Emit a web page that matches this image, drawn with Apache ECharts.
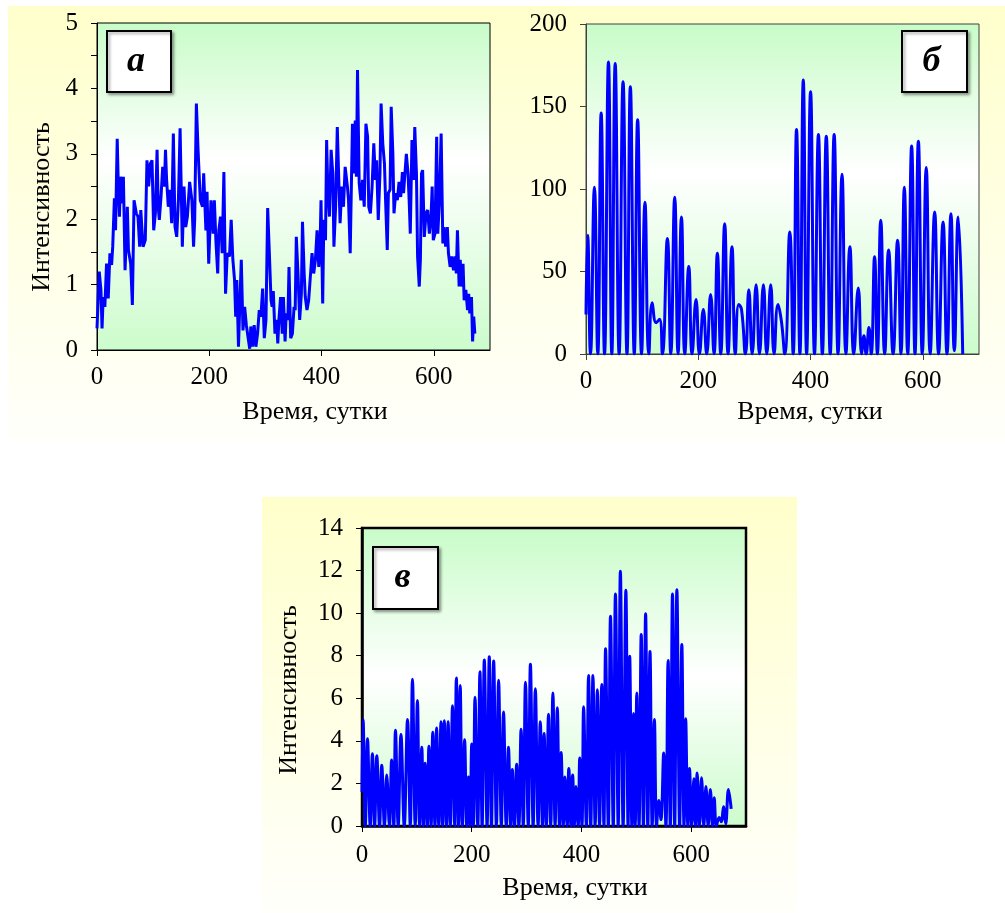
<!DOCTYPE html>
<html>
<head>
<meta charset="utf-8">
<script src="https://cdn.jsdelivr.net/npm/echarts@6/dist/echarts.min.js"></script>
<style>
  html, body { margin: 0; padding: 0; background: #fff; }
  #main { width: 1005px; height: 913px; }
</style>
</head>
<body>
<div id="main"></div>
<script>
// Panneau a : intensité brute
var daysA = [
  0, 4, 7, 9, 11, 14, 17, 20, 23, 26,
  28, 31, 33, 36, 38, 40, 42, 45, 47, 50,
  54, 56, 60, 63, 66, 70, 73, 76, 78, 82,
  86, 89, 92, 95, 98, 101, 104, 107, 109, 111,
  114, 117, 120, 122, 124, 127, 130, 133, 136, 139,
  142, 145, 148, 152, 155, 158, 161, 165, 169, 172,
  174, 177, 180, 184, 188, 190, 194, 196, 199, 203,
  207, 209, 212, 215, 217, 220, 223, 226, 229, 232,
  236, 239, 242, 245, 247, 249, 252, 255, 257, 260,
  263, 266, 269, 272, 274, 277, 280, 283, 286, 289,
  292, 295, 298, 301, 304, 307, 310, 312, 314, 317,
  320, 322, 324, 327, 330, 332, 335, 337, 340, 342,
  345, 348, 351, 353, 355, 358, 361, 364, 366, 369,
  371, 374, 377, 380, 383, 386, 389, 392, 395, 397,
  399, 402, 404, 407, 409, 411, 414, 417, 420, 422,
  425, 428, 431, 433, 436, 439, 442, 446, 448, 451,
  455, 458, 460, 462, 464, 467, 470, 473, 476, 479,
  482, 484, 487, 490, 493, 496, 498, 501, 504, 506,
  509, 512, 514, 517, 519, 522, 524, 527, 529, 532,
  535, 538, 541, 544, 546, 549, 551, 554, 556, 558,
  561, 564, 566, 569, 571, 574, 576, 578, 580, 583,
  586, 589, 592, 595, 597, 599, 602, 605, 607, 610,
  613, 616, 618, 621, 624, 626, 629, 632, 635, 638,
  640, 642, 645, 647, 649, 652, 654, 657, 660, 662,
  664, 667, 669, 671, 673
];
var valA = [
  0.33, 1.2, 0.92, 0.33, 0.81, 0.66, 1.32, 0.79, 1.48, 1.3,
  1.58, 2.32, 1.83, 3.23, 2.5, 2.04, 2.65, 2.24, 2.65, 1.22,
  2.19, 1.53, 1.32, 0.69, 2.29, 2.09, 2.04, 1.58, 2.14, 1.58,
  1.68, 2.9, 2.5, 2.85, 2.9, 1.83, 2.09, 3.06, 2.19, 1.99,
  2.34, 2.8, 2.5, 3.06, 2.6, 2.19, 2.45, 1.94, 3.31, 1.88,
  1.73, 2.29, 3.39, 1.58, 2.5, 1.88, 2.04, 2.57, 2.29, 1.58,
  1.99, 3.77, 3.06, 2.29, 2.19, 2.7, 1.83, 2.42, 1.32, 2.29,
  1.78, 2.29, 1.63, 1.17, 1.83, 2.04, 1.48, 2.72, 0.86, 1.48,
  1.43, 1.99, 1.38, 1.07, 0.51, 1.07, 0.05, 0.86, 1.38, 0.3,
  0.66, 0.38, 0.2, 0.02, 0.36, 0.05, 0.38, 0.05, 0.25, 0.61,
  0.51, 0.94, 0.18, 0.46, 2.17, 1.48, 0.76, 0.66, 0.9, 0.25,
  0.46, 0.1, 0.46, 0.81, 0.25, 0.81, 0.13, 0.56, 0.46, 1.27,
  0.18, 0.25, 0.66, 0.61, 1.73, 1.17, 0.46, 0.86, 1.96, 1.17,
  0.81, 0.61, 0.76, 1.12, 1.48, 1.17, 1.38, 1.83, 1.27, 1.48,
  2.29, 0.71, 1.99, 1.68, 3.21, 2.5, 2.04, 3.06, 2.7, 1.58,
  2.19, 3.41, 2.5, 1.94, 2.5, 2.19, 2.8, 2.5, 2.29, 1.48,
  3.46, 2.7, 3.51, 2.65, 4.28, 2.55, 2.29, 2.6, 2.19, 3.46,
  3.26, 2.19, 2.09, 2.5, 3.16, 2.6, 2.9, 1.99, 2.7, 3.77,
  3.16, 2.85, 2.29, 1.53, 2.4, 2.45, 3.72, 3.0, 2.09, 2.4,
  2.29, 2.57, 2.34, 2.72, 2.4, 2.4, 3.0, 2.7, 2.29, 1.78,
  3.21, 2.6, 3.41, 2.7, 1.43, 0.97, 1.38, 2.7, 2.75, 1.73,
  2.09, 2.14, 1.78, 2.04, 2.5, 1.68, 1.78, 3.26, 1.78, 2.29,
  3.31, 1.63, 1.88, 1.58, 1.88, 1.48, 1.27, 1.43, 1.22, 1.43,
  1.17, 1.83, 0.97, 1.38, 0.97, 1.32, 0.76, 0.92, 0.61, 0.86,
  0.56, 0.81, 0.13, 0.51, 0.25
];

// Panneau б : sommets et zéros des lobes
var daysB = [
  0, 3, 8, 15, 21, 27, 33, 40, 46, 52,
  59, 66, 73, 79, 86, 92, 99, 105, 112, 118,
  125, 131, 136, 145, 151, 158, 164, 170, 176, 183,
  189, 196, 202, 209, 215, 222, 228, 234, 240, 247,
  253, 260, 266, 272, 277, 284, 290, 296, 303, 309,
  316, 322, 329, 335, 342, 348, 354, 363, 369, 375,
  381, 387, 393, 400, 407, 414, 421, 428, 435, 442,
  449, 456, 463, 470, 477, 485, 491, 495, 499, 504,
  508, 514, 519, 525, 532, 539, 547, 555, 561, 567,
  573, 580, 586, 592, 599, 606, 613, 621, 628, 636,
  643, 650, 656, 663, 671
];
var valB = [
  24, 72, 0, 101, 0, 146, 0, 177, 0, 176,
  0, 165, 0, 162, 0, 142, 0, 92, 0, 31,
  19, 21, 0, 70, 0, 95, 0, 83, 0, 53,
  0, 33, 0, 27, 0, 36, 0, 61, 0, 79,
  0, 65, 0, 30, 27, 0, 39, 0, 42, 0,
  42, 0, 42, 0, 30, 20, 0, 74, 0, 136,
  0, 166, 0, 159, 0, 133, 0, 132, 0, 133,
  0, 109, 0, 65, 0, 40, 0, 11, 0, 16,
  0, 59, 0, 81, 0, 63, 0, 69, 0, 101,
  0, 126, 0, 129, 0, 113, 0, 86, 0, 80,
  0, 85, 2, 83, 0
];

// Panneau в
var daysC = [
  0, 2, 6, 10, 15, 19, 23, 27, 32, 36,
  41, 45, 50, 54, 58, 61, 66, 71, 77, 83,
  88, 92, 97, 101, 105, 109, 112, 115, 119, 122,
  126, 129, 133, 136, 140, 144, 147, 150, 154, 157,
  161, 165, 169, 172, 176, 179, 183, 187, 191, 194,
  197, 200, 203, 206, 211, 215, 219, 223, 228, 232,
  236, 240, 245, 249, 254, 258, 263, 267, 271, 274,
  278, 282, 286, 290, 294, 298, 303, 307, 312, 316,
  321, 325, 329, 332, 336, 340, 344, 348, 352, 356,
  360, 363, 367, 370, 374, 377, 381, 384, 387, 390,
  394, 397, 401, 404, 409, 413, 417, 421, 425, 429,
  433, 437, 441, 444, 449, 453, 458, 462, 467, 471,
  476, 481, 485, 488, 492, 495, 498, 501, 505, 509,
  513, 517, 521, 525, 529, 533, 537, 541, 545, 550,
  554, 558, 562, 566, 570, 574, 579, 583, 587, 590,
  594, 597, 601, 605, 608, 611, 615, 619, 623, 627,
  631, 635, 639, 642, 646, 651, 655, 659, 663, 668,
  673
];
var valC = [
  1.6, 5.0, 0, 4.1, 0, 3.4, 0, 3.3, 0, 2.85,
  0, 2.4, 0, 3.1, 0, 4.5, 0, 4.3, 0, 5.0,
  0, 6.9, 0, 5.9, 0, 3.7, 0, 2.95, 0, 3.75,
  0, 4.4, 0, 4.6, 0, 4.9, 0, 4.95, 0, 4.9,
  0, 5.65, 0, 6.95, 0, 6.6, 0, 4.05, 0, 2.3,
  0, 3.85, 0, 6.05, 0, 7.25, 0, 7.8, 0, 7.95,
  0, 7.75, 0, 6.85, 0, 5.35, 0, 3.7, 0, 2.65,
  0, 2.9, 0, 4.55, 0, 6.75, 0, 7.6, 0, 6.45,
  0, 4.9, 0, 4.35, 0, 5.25, 0, 6.25, 0, 5.55,
  0, 3.45, 0, 2.3, 0, 2.7, 0, 2.4, 0, 1.85,
  0, 3.2, 0, 5.6, 0, 7.07, 0, 7.07, 0, 6.4,
  0, 6.65, 0, 8.33, 0, 9.85, 0, 10.9, 0, 11.97,
  0, 11.07, 0, 7.97, 0, 5.28, 0, 6.25, 0, 9.0,
  0, 9.97, 0, 8.2, 0, 5.0, 0, 1.2, 0.3, 3.43,
  0, 7.78, 0, 10.9, 0, 11.1, 0, 8.53, 0, 5.04,
  0, 2.7, 0, 2.22, 0, 2.49, 0, 2.27, 0, 1.86,
  0, 1.71, 0, 1.33, 0, 0.4, 0.2, 0.9, 0.1, 1.71,
  0.8
];

var xTicks = [0, 200, 400, 600];
var font = 'Liberation Serif';

function zip(xs, ys) {
	var out = [];
	for (var i = 0; i < xs.length; i++) {
		out.push([xs[i], ys[i]]);
	}
	return out;
}

// Dégradé vert - blanc - vert du fond des graphiques
function plotBg(mid) {
	return new echarts.graphic.LinearGradient(0, 0, 0, 1, [
		{ offset: 0, color: '#C8FCC8' },
		{ offset: mid, color: '#FFFFFF' },
		{ offset: 1, color: '#CCFCCC' }
	]);
}

function xAxisFor(gridIndex, lineColor, lineWidth, margin) {
	return {
		type: 'value', gridIndex: gridIndex, min: 0, max: 700, interval: 200,
		axisLine: { show: true, onZero: false, lineStyle: { color: lineColor, width: lineWidth } },
		axisTick: { show: true, length: 6, customValues: xTicks, lineStyle: { color: lineColor, width: 1 } },
		axisLabel: {
			customValues: xTicks, margin: margin, color: '#000', fontFamily: font, fontSize: 25,
			formatter: function(v) { return v === 700 ? '' : v; }
		},
		splitLine: { show: false }
	};
}

function yAxisFor(gridIndex, max, interval, lineColor, lineWidth, minor) {
	return {
		type: 'value', gridIndex: gridIndex, min: 0, max: max, interval: interval,
		axisLine: { show: true, lineStyle: { color: lineColor, width: lineWidth } },
		axisTick: { show: true, length: 6, lineStyle: { color: lineColor, width: 1 } },
		minorTick: { show: minor, splitNumber: 2, length: 6, lineStyle: { color: lineColor, width: 1 } },
		axisLabel: { margin: 19, color: '#000', fontFamily: font, fontSize: 25 },
		splitLine: { show: false }
	};
}

function titleText(x, y, text, rotate) {
	return {
		type: 'text', x: x, y: y, rotation: rotate ? Math.PI / 2 : 0, z: 50,
		style: { text: text, fill: '#000', font: '26px "' + font + '"', align: 'center', verticalAlign: 'middle' }
	};
}

function letterBox(x, y, w, h, letter) {
	return {
		type: 'group', z: 100,
		children: [
			{
				type: 'rect', shape: { x: x, y: y, width: w, height: h },
				style: { fill: '#fff', stroke: '#000', lineWidth: 2, shadowBlur: 3, shadowOffsetX: 2, shadowOffsetY: 2, shadowColor: 'rgba(0,0,0,0.35)' }
			},
			{
				type: 'text', x: x + w / 2 - 3, y: y + h / 2,
				style: { text: letter, fill: '#000', font: 'italic bold 36px "' + font + '"', align: 'center', verticalAlign: 'middle' }
			}
		]
	};
}

var myChart = echarts.init(document.getElementById('main'), null, { renderer: 'canvas' });

var option = {
	animation: false,
	backgroundColor: '#fff',
	graphic: [
		{
			type: 'rect', z: -10, shape: { x: 8, y: 6, width: 997, height: 436 },
			style: { fill: new echarts.graphic.LinearGradient(0, 0, 0, 1, [
				{ offset: 0, color: '#FFFFCC' }, { offset: 1, color: '#FFFFFB' }]) }
		},
		{
			type: 'rect', z: -10, shape: { x: 262, y: 497, width: 535, height: 416 },
			style: { fill: new echarts.graphic.LinearGradient(0, 0, 0, 1, [
				{ offset: 0, color: '#FFFFCC' }, { offset: 1, color: '#FFFFFB' }]) }
		},
		titleText(42, 207, 'Интенсивность', true),
		titleText(315, 412, 'Время, сутки', false),
		titleText(810, 412, 'Время, сутки', false),
		titleText(289, 690, 'Интенсивность', true),
		titleText(575, 888, 'Время, сутки', false),
		letterBox(107, 31, 64, 61, 'а'),
		letterBox(902, 31, 65, 61, 'б'),
		letterBox(373, 547, 65, 62, 'в')
	],
	grid: [
		{ left: 97, top: 23, width: 393, height: 327, show: true, borderColor: '#000', borderWidth: 1, backgroundColor: plotBg(0.42) },
		{ left: 586, top: 24, width: 393, height: 330, show: true, borderColor: '#404040', borderWidth: 1, backgroundColor: plotBg(0.45) },
		{ left: 362, top: 528, width: 384, height: 298, show: true, borderColor: '#000', borderWidth: 2.5, backgroundColor: plotBg(0.5) }
	],
	xAxis: [
		xAxisFor(0, '#000', 1, 15),
		xAxisFor(1, '#404040', 1, 15),
		xAxisFor(2, '#000', 2.5, 17)
	],
	yAxis: [
		yAxisFor(0, 5, 1, '#000', 1, true),
		yAxisFor(1, 200, 50, '#404040', 1, false),
		yAxisFor(2, 14, 2, '#000', 2.5, false)
	],
	series: [
		{
			type: 'line', xAxisIndex: 0, yAxisIndex: 0, data: zip(daysA, valA),
			showSymbol: false, smooth: false, lineStyle: { color: '#0000FF', width: 3 }, z: 3
		},
		{
			type: 'line', xAxisIndex: 1, yAxisIndex: 1, data: zip(daysB, valB),
			showSymbol: false, smooth: 0.5, lineStyle: { color: '#0000FF', width: 3 }, z: 3
		},
		{
			type: 'line', xAxisIndex: 2, yAxisIndex: 2, data: zip(daysC, valC),
			showSymbol: false, smooth: 0.4, lineStyle: { color: '#0000FF', width: 3 }, z: 3
		}
	]
};

myChart.setOption(option);
</script>
</body>
</html>
